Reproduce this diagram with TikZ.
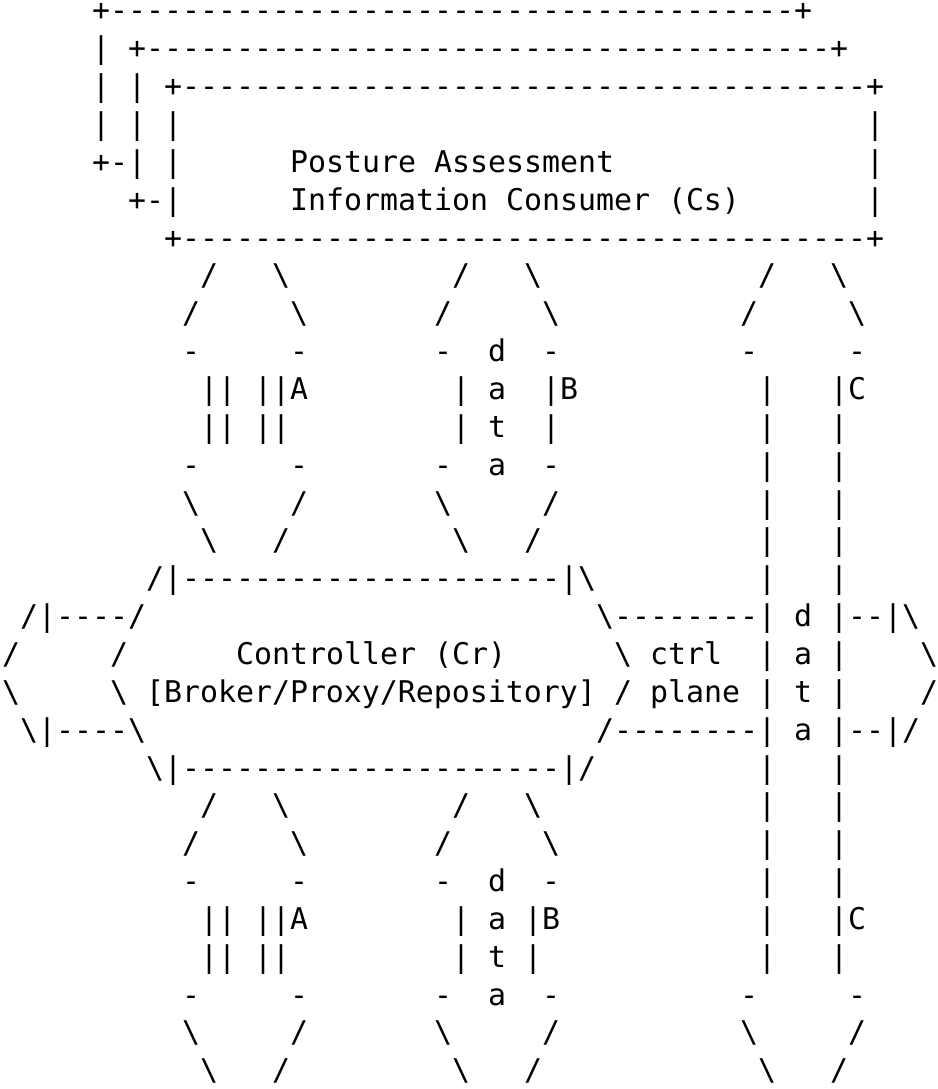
\documentclass[tikz,border=0pt]{standalone}
\usepackage{fontspec}
\setmonofont{DejaVu Sans Mono}
\newcommand\bsl{\textbackslash}
\tikzset{asc/.style={inner sep=0pt, outer sep=0pt, anchor=base west, text=black,
  font=\ttfamily\fontsize{29.9pt}{38pt}\selectfont}}
% one text run at (row, column) of the character grid
\newcommand\seg[3]{\node[asc] (s#1c#2) at ({2pt+#2*18pt},{-21pt-(#1-1)*37.85pt}) {#3};}
\newcommand\dashrun[3]{\foreach \k in {#2,...,#3}{\seg{#1}{\k}{-}}}
\begin{document}
\begin{tikzpicture}
\useasboundingbox (0,0) rectangle (937pt,-1089pt);
% Consumer boxes
\seg{1}{5}{+}\dashrun{1}{6}{43}\seg{1}{44}{+}
\seg{2}{5}{|}\seg{2}{7}{+}\dashrun{2}{8}{45}\seg{2}{46}{+}
\seg{3}{5}{|}\seg{3}{7}{|}\seg{3}{9}{+}\dashrun{3}{10}{47}\seg{3}{48}{+}
\seg{4}{5}{|}\seg{4}{7}{|}\seg{4}{9}{|}\seg{4}{48}{|}
\seg{5}{5}{+}\seg{5}{6}{-}\seg{5}{7}{|}\seg{5}{9}{|}\seg{5}{16}{Posture Assessment}\seg{5}{48}{|}
\seg{6}{7}{+}\seg{6}{8}{-}\seg{6}{9}{|}\seg{6}{16}{Information Consumer (Cs)}\seg{6}{48}{|}
\seg{7}{9}{+}\dashrun{7}{10}{47}\seg{7}{48}{+}
% upper interfaces
\seg{8}{11}{/}\seg{8}{15}{\bsl}\seg{8}{25}{/}\seg{8}{29}{\bsl}\seg{8}{42}{/}\seg{8}{46}{\bsl}
\seg{9}{10}{/}\seg{9}{16}{\bsl}\seg{9}{24}{/}\seg{9}{30}{\bsl}\seg{9}{41}{/}\seg{9}{47}{\bsl}
\seg{10}{10}{-}\seg{10}{16}{-}\seg{10}{24}{-}\seg{10}{27}{d}\seg{10}{30}{-}\seg{10}{41}{-}\seg{10}{47}{-}
\seg{11}{11}{||}\seg{11}{14}{||}\seg{11}{16}{A}\seg{11}{25}{|}\seg{11}{27}{a}\seg{11}{30}{|}\seg{11}{31}{B}\seg{11}{42}{|}\seg{11}{46}{|}\seg{11}{47}{C}
\seg{12}{11}{||}\seg{12}{14}{||}\seg{12}{25}{|}\seg{12}{27}{t}\seg{12}{30}{|}\seg{12}{42}{|}\seg{12}{46}{|}
\seg{13}{10}{-}\seg{13}{16}{-}\seg{13}{24}{-}\seg{13}{27}{a}\seg{13}{30}{-}\seg{13}{42}{|}\seg{13}{46}{|}
\seg{14}{10}{\bsl}\seg{14}{16}{/}\seg{14}{24}{\bsl}\seg{14}{30}{/}\seg{14}{42}{|}\seg{14}{46}{|}
\seg{15}{11}{\bsl}\seg{15}{15}{/}\seg{15}{25}{\bsl}\seg{15}{29}{/}\seg{15}{42}{|}\seg{15}{46}{|}
% controller
\seg{16}{8}{/|}\dashrun{16}{10}{30}\seg{16}{31}{|\bsl}\seg{16}{42}{|}\seg{16}{46}{|}
\seg{17}{1}{/|}\dashrun{17}{3}{6}\seg{17}{7}{/}\seg{17}{33}{\bsl}\dashrun{17}{34}{41}\seg{17}{42}{|}\seg{17}{44}{d}\seg{17}{46}{|}\dashrun{17}{47}{48}\seg{17}{49}{|\bsl}
\seg{18}{0}{/}\seg{18}{6}{/}\seg{18}{13}{Controller (Cr)}\seg{18}{34}{\bsl}\seg{18}{36}{ctrl}\seg{18}{42}{|}\seg{18}{44}{a}\seg{18}{46}{|}\seg{18}{51}{\bsl}
\seg{19}{0}{\bsl}\seg{19}{6}{\bsl}\seg{19}{8}{[Broker/Proxy/Repository]}\seg{19}{34}{/}\seg{19}{36}{plane}\seg{19}{42}{|}\seg{19}{44}{t}\seg{19}{46}{|}\seg{19}{51}{/}
\seg{20}{1}{\bsl|}\dashrun{20}{3}{6}\seg{20}{7}{\bsl}\seg{20}{33}{/}\dashrun{20}{34}{41}\seg{20}{42}{|}\seg{20}{44}{a}\seg{20}{46}{|}\dashrun{20}{47}{48}\seg{20}{49}{|/}
\seg{21}{8}{\bsl|}\dashrun{21}{10}{30}\seg{21}{31}{|/}\seg{21}{42}{|}\seg{21}{46}{|}
% lower interfaces
\seg{22}{11}{/}\seg{22}{15}{\bsl}\seg{22}{25}{/}\seg{22}{29}{\bsl}\seg{22}{42}{|}\seg{22}{46}{|}
\seg{23}{10}{/}\seg{23}{16}{\bsl}\seg{23}{24}{/}\seg{23}{30}{\bsl}\seg{23}{42}{|}\seg{23}{46}{|}
\seg{24}{10}{-}\seg{24}{16}{-}\seg{24}{24}{-}\seg{24}{27}{d}\seg{24}{30}{-}\seg{24}{42}{|}\seg{24}{46}{|}
\seg{25}{11}{||}\seg{25}{14}{||}\seg{25}{16}{A}\seg{25}{25}{|}\seg{25}{27}{a}\seg{25}{29}{|}\seg{25}{30}{B}\seg{25}{42}{|}\seg{25}{46}{|}\seg{25}{47}{C}
\seg{26}{11}{||}\seg{26}{14}{||}\seg{26}{25}{|}\seg{26}{27}{t}\seg{26}{29}{|}\seg{26}{42}{|}\seg{26}{46}{|}
\seg{27}{10}{-}\seg{27}{16}{-}\seg{27}{24}{-}\seg{27}{27}{a}\seg{27}{30}{-}\seg{27}{41}{-}\seg{27}{47}{-}
\seg{28}{10}{\bsl}\seg{28}{16}{/}\seg{28}{24}{\bsl}\seg{28}{30}{/}\seg{28}{41}{\bsl}\seg{28}{47}{/}
\seg{29}{11}{\bsl}\seg{29}{15}{/}\seg{29}{25}{\bsl}\seg{29}{29}{/}\seg{29}{42}{\bsl}\seg{29}{46}{/}
\end{tikzpicture}
\end{document}
